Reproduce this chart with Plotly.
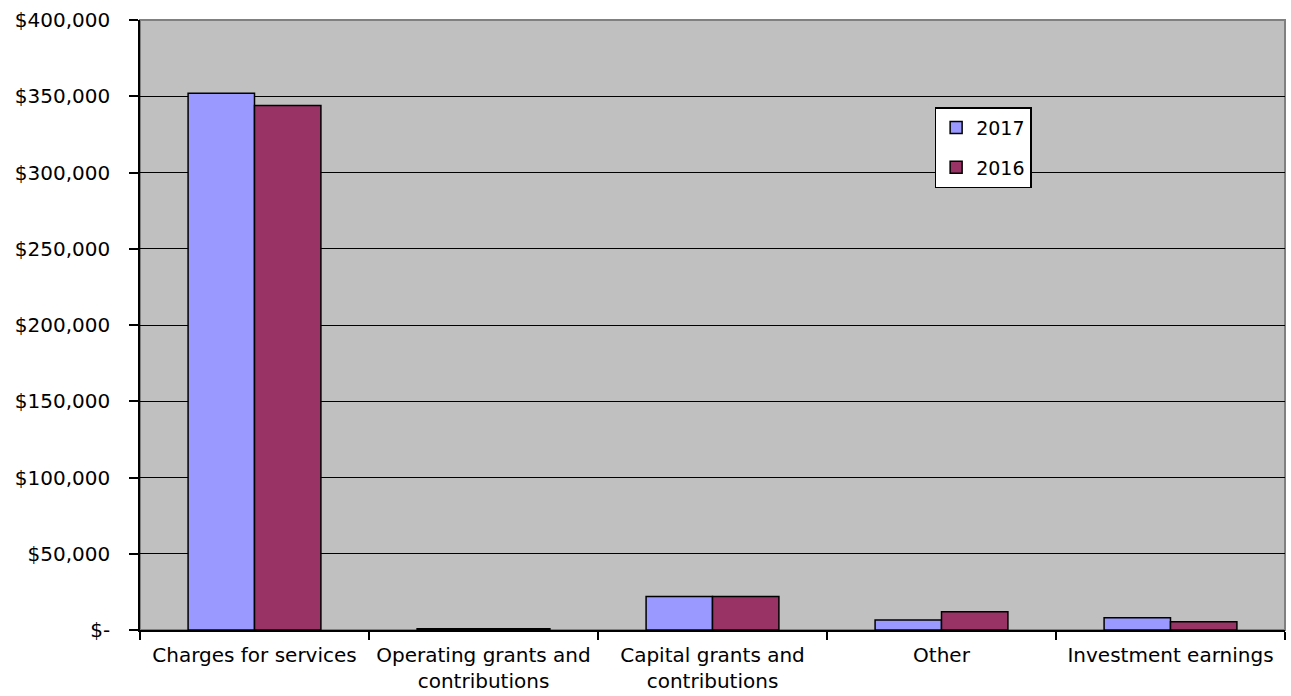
import plotly.graph_objects as go

categories = ["Charges for services", "Operating grants and<br>contributions",
              "Capital grants and<br>contributions", "Other", "Investment earnings"]
values_2017 = [352000, 900, 22000, 6500, 8100]
values_2016 = [344000, 900, 22000, 12000, 5400]
tick_vals = [0, 50000, 100000, 150000, 200000, 250000, 300000, 350000, 400000]
tick_text = ["$-", "$50,000", "$100,000", "$150,000", "$200,000", "$250,000",
             "$300,000", "$350,000", "$400,000"]

FONT = "DejaVu Sans, Liberation Sans, Arial, sans-serif"

fig = go.Figure()
fig.add_trace(go.Bar(x=categories, y=values_2017, name="2017", legendgroup="a",
                     marker=dict(color="#9999FF", line=dict(color="black", width=1.5))))
fig.add_trace(go.Bar(x=categories, y=values_2016, name="2016", legendgroup="b",
                     marker=dict(color="#993366", line=dict(color="black", width=1.5))))

fig.update_layout(
    width=1291, height=696,
    margin=dict(l=140, r=6, t=20, b=66, autoexpand=False),
    paper_bgcolor="white", plot_bgcolor="#C0C0C0",
    barmode="group", bargap=0.42, bargroupgap=0,
    font=dict(family=FONT, size=20, color="black"),
    showlegend=True,
    legend=dict(x=0.694, y=0.857, xanchor="left", yanchor="top",
                bgcolor="white", bordercolor="black", borderwidth=1.5,
                font=dict(size=19), tracegroupgap=12),
    xaxis=dict(showgrid=False, tickson="boundaries", ticks="outside", ticklen=8,
               tickcolor="black", tickwidth=1.5, showline=True, linecolor="black",
               linewidth=1.5, tickfont=dict(size=20), ticklabelstandoff=6,
               automargin=False),
    yaxis=dict(range=[0, 400000], tickvals=tick_vals, ticktext=tick_text,
               showgrid=True, gridcolor="black", gridwidth=1.2, ticks="outside",
               ticklen=9, tickcolor="black", tickwidth=1.5, showline=True,
               linecolor="black", linewidth=1.5, zeroline=False,
               tickfont=dict(size=20), ticklabelstandoff=15, automargin=False),
    shapes=[dict(type="rect", xref="paper", yref="paper", x0=0, y0=0, x1=1, y1=1,
                 line=dict(color="#808080", width=2), layer="below")],
)

fig.write_html("out.html", config={"displayModeBar": False},
               post_script="document.body.style.margin='0';document.body.style.overflow='hidden';")
